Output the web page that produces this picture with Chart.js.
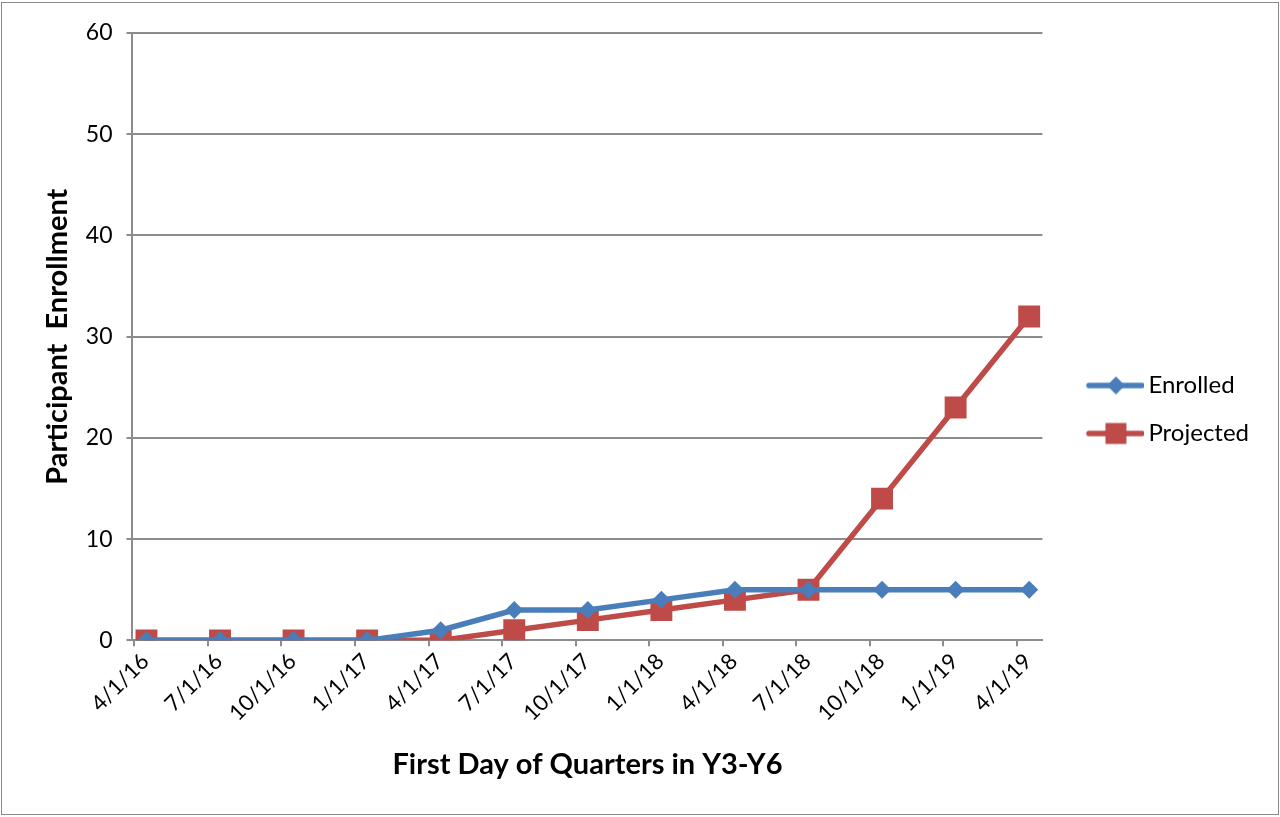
<!DOCTYPE html>
<html>
<head>
<meta charset="utf-8">
<script src="https://cdn.jsdelivr.net/npm/chart.js@4"></script>
<style>
  html, body { margin: 0; padding: 0; background: #fff; }
  #frame {
    position: absolute; left: 1px; top: 2px;
    width: 1276px; height: 811px;
    border: 1px solid #8a8a8a;
  }
</style>
</head>
<body>
<div id="frame"><canvas id="chart" width="1276" height="811"></canvas></div>
<script>
const quarterLabels = ['4/1/16', '7/1/16', '10/1/16', '1/1/17', '4/1/17', '7/1/17', '10/1/17',
    '1/1/18', '4/1/18', '7/1/18', '10/1/18', '1/1/19', '4/1/19']
const enrolled = [0, 0, 0, 0, 1, 3, 3, 4, 5, 5, 5, 5, 5]
const projected = [0, 0, 0, 0, 0, 1, 2, 3, 4, 5, 14, 23, 32]

const blue = '#4a7ebb'
const red = '#be4b48'
const axisGray = '#8c8c8c'
const fontFamily = 'Lato, "Open Sans", sans-serif'

// tick marks sit a little left of each data point (date axis look)
const tickShift = 0.165

// legend sample: line with marker, with a transparent margin on the left
function legendSample(color, style, radius){
    const c = document.createElement('canvas')
    c.width = 85
    c.height = 26
    const ctx = c.getContext('2d')
    const mid = 57
    ctx.strokeStyle = color
    ctx.lineWidth = 5.5
    ctx.lineCap = 'round'
    ctx.beginPath()
    ctx.moveTo(30, 13)
    ctx.lineTo(83, 13)
    ctx.stroke()
    ctx.fillStyle = color
    ctx.beginPath()
    if(style === 'diamond'){
        ctx.moveTo(mid - radius, 13)
        ctx.lineTo(mid, 13 - radius)
        ctx.lineTo(mid + radius, 13)
        ctx.lineTo(mid, 13 + radius)
        ctx.closePath()
    }else{
        ctx.rect(mid - radius, 13 - radius, radius * 2, radius * 2)
    }
    ctx.fill()
    return c
}

const samples = [legendSample(blue, 'diamond', 9), legendSample(red, 'square', 10.5)]

const toPoints = arr => arr.map((v, i) => ({x: i, y: v}))

new Chart(document.getElementById('chart'), {
    type: 'line',
    data: {
        datasets: [
            {
                label: 'Enrolled',
                data: toPoints(enrolled),
                borderColor: blue,
                backgroundColor: blue,
                borderWidth: 5.5,
                pointStyle: 'rectRot',
                pointRadius: 9,
                pointHoverRadius: 9,
                pointBorderWidth: 0
            },
            {
                label: 'Projected',
                data: toPoints(projected),
                borderColor: red,
                backgroundColor: red,
                borderWidth: 5.5,
                pointStyle: 'rect',
                pointRadius: 15.5,
                pointHoverRadius: 15.5,
                pointBorderWidth: 0
            }
        ]
    },
    options: {
        responsive: false,
        animation: false,
        layout: {padding: {left: 38, right: 19, top: 30, bottom: 28}},
        plugins: {
            tooltip: {enabled: false},
            legend: {
                position: 'right',
                labels: {
                    usePointStyle: true,
                    pointStyleWidth: 70,
                    padding: 24,
                    color: '#000',
                    font: {family: fontFamily, size: 24},
                    generateLabels: chart => chart.data.datasets.map((ds, i) => ({
                        text: ds.label,
                        pointStyle: samples[i],
                        fontColor: '#000',
                        lineWidth: 0,
                        hidden: false,
                        datasetIndex: i
                    }))
                }
            }
        },
        scales: {
            x: {
                type: 'linear',
                min: -0.19,
                max: 12.18,
                afterBuildTicks: scale => {
                    scale.ticks = quarterLabels.map((l, i) => ({value: i - tickShift}))
                },
                grid: {
                    drawOnChartArea: false,
                    drawTicks: true,
                    tickLength: 6,
                    color: axisGray,
                    lineWidth: 2
                },
                border: {color: axisGray, width: 2},
                ticks: {
                    autoSkip: false,
                    maxRotation: 45,
                    minRotation: 45,
                    padding: 2,
                    labelOffset: 11,
                    color: '#000',
                    font: {family: fontFamily, size: 22},
                    callback: (v, i) => quarterLabels[i]
                },
                title: {
                    display: true,
                    text: 'First Day of Quarters in Y3-Y6',
                    color: '#000',
                    font: {family: fontFamily, size: 29, weight: 'bold'},
                    padding: {top: 19}
                }
            },
            y: {
                min: 0,
                max: 60,
                ticks: {
                    stepSize: 10,
                    padding: 14,
                    color: '#000',
                    font: {family: fontFamily, size: 23}
                },
                grid: {
                    color: axisGray,
                    lineWidth: 2,
                    tickLength: 6
                },
                border: {color: axisGray, width: 2},
                title: {
                    display: true,
                    text: 'Participant  Enrollment',
                    color: '#000',
                    font: {family: fontFamily, size: 29, weight: 'bold'},
                    padding: {top: 0, bottom: -3}
                }
            }
        }
    }
})
</script>
</body>
</html>
